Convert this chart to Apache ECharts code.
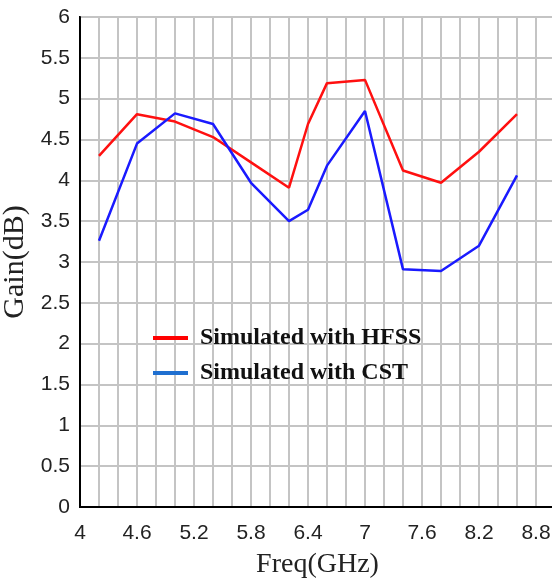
<!DOCTYPE html>
<html>
<head>
<meta charset="utf-8">
<script src="https://cdn.jsdelivr.net/npm/echarts@6/dist/echarts.min.js"></script>
<style>html,body{margin:0;padding:0;background:#fff;}#c{width:552px;height:580px;}</style>
</head>
<body>
<div id="c"></div>
<script>
var freq = [4.2, 4.6, 5.0, 5.4, 5.8, 6.2, 6.4, 6.6, 7.0, 7.4, 7.8, 8.2, 8.6];
var hfss = [4.30, 4.81, 4.72, 4.53, 4.22, 3.91, 4.69, 5.19, 5.23, 4.12, 3.97, 4.35, 4.81];
var cst  = [3.26, 4.45, 4.82, 4.69, 3.97, 3.50, 3.64, 4.18, 4.85, 2.91, 2.89, 3.20, 4.06];
var xTickLabels = ['4', '4.6', '5.2', '5.8', '6.4', '7', '7.6', '8.2', '8.8'];
var seriesNames = ['Simulated with HFSS', 'Simulated with CST'];

function pairs(xs, ys) { return xs.map(function (x, i) { return [x, ys[i]]; }); }

var chart = echarts.init(document.getElementById('c'));
chart.setOption({
  backgroundColor: '#fff',
  animation: false,
  grid: { left: 80, top: 17, right: -3, bottom: 73, outerBoundsMode: 'none', containLabel: false,
          show: true, borderColor: '#000', borderWidth: 2, backgroundColor: 'transparent' },
  legend: {
    orient: 'vertical', left: 148, top: 320,
    icon: 'rect', itemWidth: 35, itemHeight: 4, itemGap: 9,
    textStyle: { fontFamily: 'Liberation Serif', fontWeight: 'bold', fontSize: 24, color: '#111', lineHeight: 26, padding: [0, 0, 0, 7] },
    data: [
      { name: seriesNames[0], itemStyle: { color: '#ff0000' } },
      { name: seriesNames[1], itemStyle: { color: '#1f6fd0' } }
    ]
  },
  xAxis: {
    type: 'value', min: 4, max: 9, interval: 0.2,
    name: 'Freq(GHz)', nameLocation: 'middle', nameGap: 44,
    nameTextStyle: { fontFamily: 'Liberation Serif', fontSize: 28, color: '#222' },
    axisLine: { show: true, lineStyle: { color: '#000', width: 2 } },
    axisTick: { show: false },
    axisLabel: {
      margin: 16, fontFamily: 'Liberation Sans', fontSize: 21, color: '#222',
      showMaxLabel: false,
      formatter: function (v) {
        var s = String(Math.round(v * 10) / 10);
        return xTickLabels.indexOf(s) >= 0 ? s : '';
      }
    },
    splitLine: { show: true, lineStyle: { color: '#c4c4c4', width: 2 } }
  },
  yAxis: {
    type: 'value', min: 0, max: 6, interval: 0.5,
    name: 'Gain(dB)', nameLocation: 'middle', nameGap: 46,
    nameTextStyle: { fontFamily: 'Liberation Serif', fontSize: 30, color: '#222' },
    axisLine: { show: true, lineStyle: { color: '#000', width: 2 } },
    axisTick: { show: false },
    axisLabel: { margin: 10, fontFamily: 'Liberation Sans', fontSize: 21, color: '#222' },
    splitLine: { show: true, lineStyle: { color: '#c4c4c4', width: 2 } }
  },
  series: [
    { name: seriesNames[0], type: 'line', data: pairs(freq, hfss), showSymbol: false, symbol: 'none',
      lineStyle: { color: '#ff1010', width: 2.5 }, itemStyle: { color: '#ff0000' } },
    { name: seriesNames[1], type: 'line', data: pairs(freq, cst), showSymbol: false, symbol: 'none',
      lineStyle: { color: '#1a1aff', width: 2.5 }, itemStyle: { color: '#1f6fd0' } }
  ]
});
</script>
</body>
</html>
